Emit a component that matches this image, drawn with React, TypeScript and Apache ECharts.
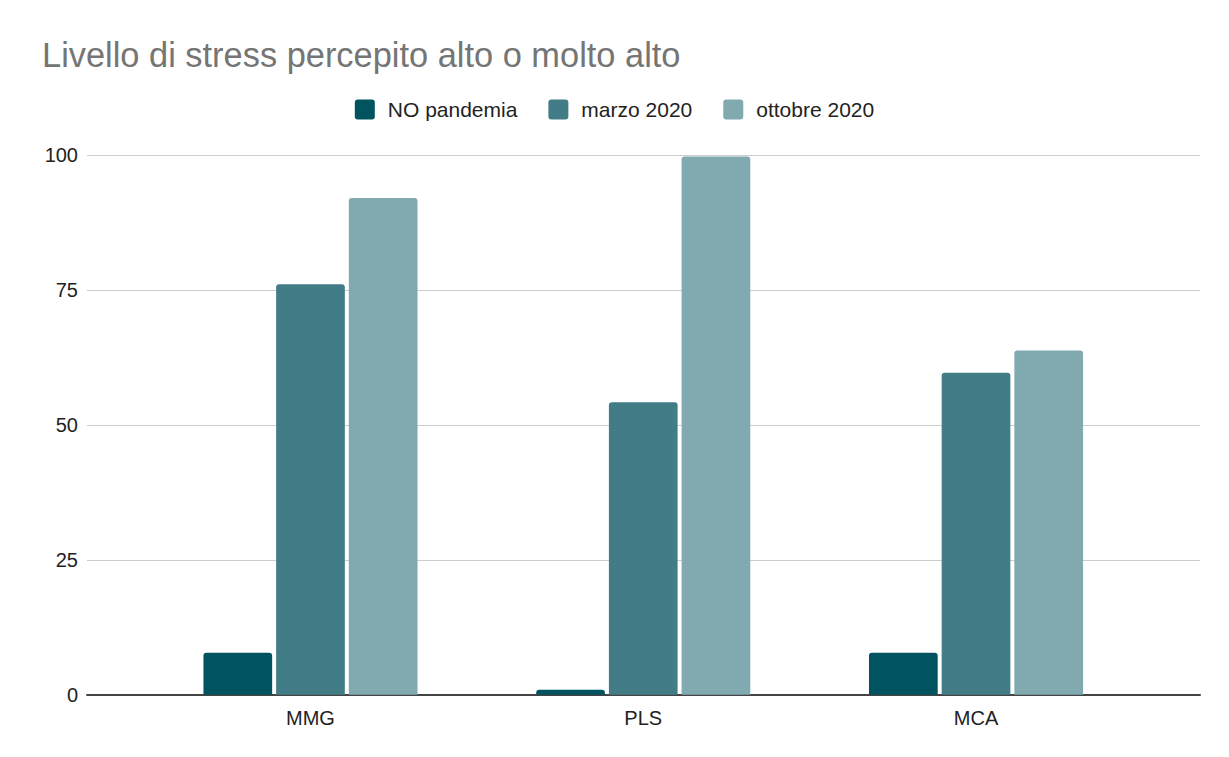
import React, { useEffect, useRef } from "react";
import * as echarts from "echarts";

const categories = ["MMG", "PLS", "MCA"];
const seriesNames = ["NO pandemia", "marzo 2020", "ottobre 2020"];
const noPandemia = [7.8, 0.9, 7.8];
const marzo2020 = [76.1, 54.2, 59.7];
const ottobre2020 = [92.1, 99.8, 63.8];
const colors = ["#01535f", "#427d87", "#80a9b0"];

const FONT = "'Liberation Sans', Arial, sans-serif";

export default function App() {
  const ref = useRef<HTMLDivElement>(null);
  useEffect(() => {
    if (!ref.current) return;
    const chart = echarts.init(ref.current, undefined, { renderer: "svg" });
    const values = [noPandemia, marzo2020, ottobre2020];
    chart.setOption({
      animation: false,
      backgroundColor: "#ffffff",
      title: {
        text: "Livello di stress percepito alto o molto alto",
        left: 37,
        top: 33,
        textStyle: { fontFamily: FONT, fontSize: 34.4, fontWeight: "normal", color: "#757575" },
      },
      legend: {
        data: seriesNames,
        top: 94,
        left: "center",
        itemWidth: 20,
        itemHeight: 20,
        itemGap: 31,
        icon: "path://M3,0 H17 A3,3 0 0 1 20,3 V17 A3,3 0 0 1 17,20 H3 A3,3 0 0 1 0,17 V3 A3,3 0 0 1 3,0 Z",
        textStyle: { fontFamily: FONT, fontSize: 21, color: "#222222", padding: [0, 0, 0, 8] },
      },
      grid: [
        { left: 87, right: 29, top: 155.3, bottom: 62.3 },
        { left: 144.1, right: 86.6, top: 155.3, bottom: 62.3 },
      ],
      xAxis: [
        {
          gridIndex: 0,
          type: "category",
          data: [""],
          axisLine: { show: true, lineStyle: { color: "#444444", width: 2 } },
          axisTick: { show: false },
          axisLabel: { show: false },
          z: 3,
        },
        {
          gridIndex: 1,
          type: "category",
          data: categories,
          axisLine: { show: false },
          axisTick: { show: false },
          axisLabel: { fontFamily: FONT, fontSize: 20, color: "#222222", margin: 13 },
        },
      ],
      yAxis: [
        {
          gridIndex: 0,
          type: "value",
          min: 0,
          max: 100,
          interval: 25,
          axisLine: { show: false },
          axisTick: { show: false },
          axisLabel: { fontFamily: FONT, fontSize: 20, color: "#222222", margin: 9 },
          splitLine: { lineStyle: { color: "#cccccc", width: 1 } },
        },
        {
          gridIndex: 1,
          type: "value",
          min: 0,
          max: 100,
          interval: 25,
          show: false,
          splitLine: { show: false },
        },
      ],
      series: seriesNames.map((name, i) => ({
        name,
        type: "bar",
        xAxisIndex: 1,
        yAxisIndex: 1,
        data: values[i],
        barWidth: 68.7,
        barGap: "5.8%",
        itemStyle: { color: colors[i], borderRadius: [3, 3, 0, 0] },
        z: 4,
      })),
    });
    return () => chart.dispose();
  }, []);
  return (
    <div
      ref={ref}
      style={{ position: "absolute", left: 0, top: 0, width: 1229, height: 757 }}
    />
  );
}
